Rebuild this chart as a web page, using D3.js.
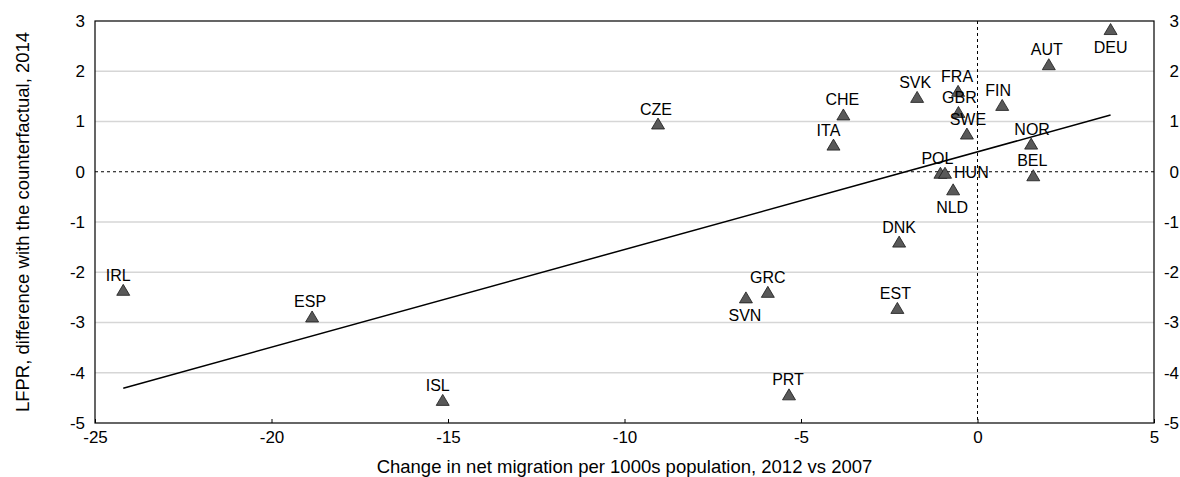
<!DOCTYPE html>
<html>
<head>
<meta charset="utf-8">
<script src="https://cdn.jsdelivr.net/npm/d3@7"></script>
<style>
  html, body { margin: 0; padding: 0; background: #ffffff; }
  svg { display: block; font-family: "Liberation Sans", Arial, Helvetica, sans-serif; }
</style>
</head>
<body>
<svg id="chart" width="1180" height="477"></svg>
<script>
// Country codes
const countries = ["IRL","ESP","ISL","CZE","SVN","GRC","PRT","ITA","CHE","EST","DNK","SVK",
                   "POL","HUN","NLD","FRA","GBR","SWE","FIN","NOR","BEL","AUT","DEU"];
// Change in net migration per 1000 population, 2012 vs 2007
const migrationChange = [-24.2,-18.85,-15.15,-9.05,-6.56,-5.94,-5.34,-4.08,-3.80,-2.27,-2.22,-1.71,
                         -1.05,-0.92,-0.69,-0.55,-0.54,-0.30,0.70,1.52,1.58,2.02,3.77];
// LFPR difference with the counterfactual, 2014
const lfprDiff = [-2.35,-2.88,-4.54,0.96,-2.50,-2.39,-4.43,0.54,1.14,-2.71,-1.39,1.49,
                  -0.02,-0.02,-0.35,1.61,1.19,0.76,1.33,0.56,-0.07,2.14,2.84];

const xTicks = [-25,-20,-15,-10,-5,0,5];
const yTicks = [3,2,1,0,-1,-2,-3,-4,-5];
const xTitle = "Change in net migration per 1000s population, 2012 vs 2007";
const yTitle = "LFPR, difference with the counterfactual, 2014";

// Label placement around each marker: side and horizontal nudge in px
const labelPlace = {
  IRL:["above",-5], ESP:["above",-2], ISL:["above",-5], CZE:["above",-2], SVN:["below",-1],
  GRC:["above",0], PRT:["above",-1], ITA:["above",-5], CHE:["above",-1], EST:["above",-2],
  DNK:["above",0], SVK:["above",-2], POL:["above",-3], HUN:["right",0], NLD:["below",-1],
  FRA:["above",-1], GBR:["above",1], SWE:["above",1], FIN:["above",-4], NOR:["above",1],
  BEL:["above",-1], AUT:["above",-2], DEU:["below",0]
};

const points = countries.map((c, i) => ({ code: c, x: migrationChange[i], y: lfprDiff[i] }));

const FONT = "Liberation Sans, Arial, Helvetica, sans-serif";
const tickFmt = d => String(d);   // plain hyphen for negatives

const svg = d3.select("#chart");
const plotL = 95, plotR = 1154, plotT = 21, plotB = 423;

const x = d3.scaleLinear().domain([-25, 5]).range([plotL, plotR]);
const y = d3.scaleLinear().domain([-5, 3]).range([plotB, plotT]);

// Horizontal gridlines
svg.append("g").selectAll("line")
  .data(yTicks.filter(t => t !== 0 && t !== 3 && t !== -5))
  .join("line")
  .attr("x1", plotL).attr("x2", plotR)
  .attr("y1", d => y(d)).attr("y2", d => y(d))
  .attr("stroke", "#d6d6d6").attr("stroke-width", 1.5);

// Zero reference lines (dashed)
svg.append("line")
  .attr("x1", plotL).attr("x2", plotR).attr("y1", y(0)).attr("y2", y(0))
  .attr("stroke", "#000").attr("stroke-width", 1).attr("stroke-dasharray", "3,3");
svg.append("line")
  .attr("x1", x(0)).attr("x2", x(0)).attr("y1", plotT).attr("y2", plotB)
  .attr("stroke", "#000").attr("stroke-width", 1).attr("stroke-dasharray", "3,3");

// Plot frame
svg.append("rect")
  .attr("x", plotL).attr("y", plotT).attr("width", plotR - plotL).attr("height", plotB - plotT)
  .attr("fill", "none").attr("stroke", "#000").attr("stroke-width", 1.2);

// Bottom axis with inward ticks
const xAxis = svg.append("g")
  .attr("transform", `translate(0,${plotB})`)
  .call(d3.axisBottom(x).tickValues(xTicks).tickSize(-4).tickPadding(8).tickFormat(tickFmt));
xAxis.select(".domain").remove();
xAxis.selectAll("line").attr("stroke", "#000");
xAxis.selectAll("text").attr("font-size", 17).attr("fill", "#000").attr("font-family", FONT);

// Left and right value axes (labels only)
const yLeft = svg.append("g").attr("transform", `translate(${plotL},0)`)
  .call(d3.axisLeft(y).tickValues(yTicks).tickSize(0).tickPadding(10).tickFormat(tickFmt));
yLeft.select(".domain").remove();
yLeft.selectAll("text").attr("font-size", 17).attr("fill", "#000").attr("font-family", FONT);

const yRight = svg.append("g").attr("transform", `translate(${plotR},0)`)
  .call(d3.axisRight(y).tickValues(yTicks).tickSize(0).tickPadding(0).tickFormat(tickFmt));
yRight.select(".domain").remove();
yRight.selectAll("text").attr("font-size", 17).attr("fill", "#000")
  .attr("text-anchor", "end").attr("x", 1179 - plotR).attr("font-family", FONT);

// Least-squares trend line across the observed range
const mx = d3.mean(points, d => d.x), my = d3.mean(points, d => d.y);
const slope = d3.sum(points, d => (d.x - mx) * (d.y - my)) / d3.sum(points, d => (d.x - mx) ** 2);
const intercept = my - slope * mx;
const [xMin, xMax] = d3.extent(points, d => d.x);
svg.append("path")
  .datum([xMin, xMax])
  .attr("d", d3.line().x(d => x(d)).y(d => y(intercept + slope * d)))
  .attr("fill", "none").attr("stroke", "#000").attr("stroke-width", 1.5);

// Triangle markers
const tw = 13, th = 11;
svg.append("g").selectAll("path")
  .data(points)
  .join("path")
  .attr("d", d => {
    const cx = x(d.x), cy = y(d.y);
    return `M${cx},${cy - th / 2}L${cx + tw / 2},${cy + th / 2}L${cx - tw / 2},${cy + th / 2}Z`;
  })
  .attr("fill", "#595959").attr("stroke", "#1a1a1a").attr("stroke-width", 0.8);

// Country labels
svg.append("g").selectAll("text")
  .data(points)
  .join("text")
  .attr("font-size", 16)
  .attr("fill", "#000")
  .attr("text-anchor", d => labelPlace[d.code][0] === "right" ? "start" : "middle")
  .attr("x", d => {
    const [side, nudge] = labelPlace[d.code];
    return x(d.x) + nudge + (side === "right" ? 9 : 0);
  })
  .attr("y", d => {
    const side = labelPlace[d.code][0];
    const cy = y(d.y);
    if (side === "above") return cy - 9;
    if (side === "below") return cy + 23.5;
    return cy + 5.7;
  })
  .text(d => d.code);

// Axis titles
svg.append("text")
  .attr("x", (plotL + plotR) / 2).attr("y", 473)
  .attr("text-anchor", "middle").attr("font-size", 18.5).attr("fill", "#000")
  .text(xTitle);
svg.append("text")
  .attr("transform", `translate(29,222) rotate(-90)`)
  .attr("text-anchor", "middle").attr("font-size", 18.5).attr("fill", "#000")
  .text(yTitle);
</script>
</body>
</html>
